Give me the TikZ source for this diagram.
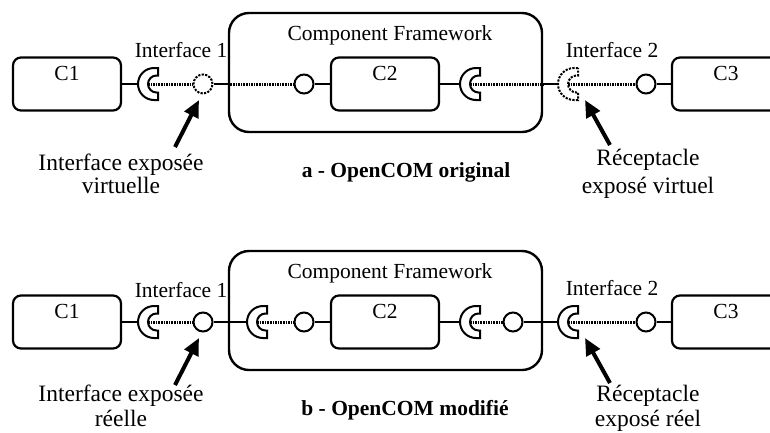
\documentclass[tikz,border=0pt]{standalone}
\usepackage{fontspec}
\setmainfont{Liberation Serif}
\usetikzlibrary{arrows.meta}
\tikzset{
  comp/.style={draw, line width=2.2pt, rounded corners=8pt, minimum width=108pt, minimum height=53pt, inner sep=0pt},
  cfbox/.style={draw, line width=2.4pt, rounded corners=20pt, minimum width=313pt, minimum height=119pt, inner sep=0pt},
  iface/.style={draw, circle, line width=2pt, minimum size=19pt, inner sep=0pt, fill=white},
  vface/.style={iface, line width=2pt, dash pattern=on 2.2pt off 1.3pt},
  vline/.style={line width=2pt, dash pattern=on 2.2pt off 1.3pt},
  wire/.style={line width=2.2pt},
  dots/.style={line width=3pt, dash pattern=on 1.5pt off 1.1pt},
  pointer/.style={line width=4pt, -{Triangle[length=17pt,width=15pt]}},
  lbl/.style={anchor=base, inner sep=0pt},
  big/.style={font=\fontsize{23.5}{28}\selectfont},
  recep/.pic={
    \draw[line width=2pt, fill=white, pic actions]
      (20,-16) -- (16,-16) arc[start angle=270, end angle=90, radius=16]
      -- (20,16) -- (20,8.5) -- (18.5,8.5) arc[start angle=90, end angle=270, radius=8.5]
      -- (20,-8.5) -- cycle;
    \coordinate (-L) at (0,0);
    \coordinate (-in) at (10,0);
  }
}
\begin{document}
\begin{tikzpicture}[x=1pt, y=-1pt, font=\fontsize{21.5}{26}\selectfont]
\useasboundingbox (0,0) rectangle (770,432);
\clip (0,0) rectangle (770,432);

% ---------- a - original ----------
\node[cfbox] (cfa) at (385.5,72.5) {};
\node[comp] (c1a) at (67,84) {};
\node[comp] (c2a) at (385,84) {};
\node[comp] (c3a) at (726,84) {};
\pic (r1a) at (138,84) {recep};
\node[vface] (i1a) at (203,84) {};
\node[iface] (i2a) at (304,84) {};
\pic (r2a) at (460,84) {recep};
\pic[vline] (r3a) at (558,84) {recep};
\node[iface] (i3a) at (646,84) {};

\draw[wire] (c1a.east) -- (r1a-L);
\draw[dots] (r1a-in) -- (i1a);
\draw[wire] (i1a) -- (i1a -| cfa.west);
\draw[dots] (i1a -| cfa.west) -- (i2a);
\draw[wire] (i2a) -- (c2a);
\draw[wire] (c2a) -- (r2a-L);
\draw[dots] (r2a-in) -- (r2a-in -| cfa.east);
\draw[wire] (r2a-in -| cfa.east) -- (r3a-L);
\draw[dots] (r3a-in) -- (i3a);
\draw[wire] (i3a) -- (c3a);

\node[lbl] (l1a) at (67,80) {C1};
\node[lbl] (l2a) at (385,80) {C2};
\node[lbl] (l3a) at (726,80) {C3};
\node[lbl] (cfla) at (390,40) {Component Framework};
\node[lbl] (if1a) at (181,57) {Interface 1};
\node[lbl] (if2a) at (612,57) {Interface 2};
\node[lbl, big] (ie1a) at (121,170) {Interface exposée};
\node[lbl, big] (ie2a) at (121,193) {virtuelle};
\node[lbl, big] (re1a) at (648,165) {Réceptacle};
\node[lbl, big] (re2a) at (648,193) {exposé virtuel};
\node[lbl] (tta) at (406,177) {\bfseries a - OpenCOM original};

\coordinate (t1a) at (175,147);
\coordinate (p1a) at (199,100);
\coordinate (t2a) at (610,145);
\coordinate (p2a) at (585,100);
\draw[pointer] (t1a) -- (p1a);
\draw[pointer] (t2a) -- (p2a);

% ---------- b - modifie ----------
\node[cfbox] (cfb) at (385.5,310.5) {};
\node[comp] (c1b) at (67,322) {};
\node[comp] (c2b) at (385,322) {};
\node[comp] (c3b) at (726,322) {};
\pic (r1b) at (138,322) {recep};
\node[iface] (i1b) at (203,322) {};
\pic (r4b) at (247,322) {recep};
\node[iface] (i2b) at (304,322) {};
\pic (r2b) at (460,322) {recep};
\node[iface] (i5b) at (513,322) {};
\pic (r3b) at (558,322) {recep};
\node[iface] (i3b) at (646,322) {};

\draw[wire] (c1b.east) -- (r1b-L);
\draw[dots] (r1b-in) -- (i1b);
\draw[wire] (i1b) -- (r4b-L);
\draw[dots] (r4b-in) -- (i2b);
\draw[wire] (i2b) -- (c2b);
\draw[wire] (c2b) -- (r2b-L);
\draw[dots] (r2b-in) -- (i5b);
\draw[wire] (i5b) -- (r3b-L);
\draw[dots] (r3b-in) -- (i3b);
\draw[wire] (i3b) -- (c3b);

\node[lbl] (l1b) at (67,318) {C1};
\node[lbl] (l2b) at (385,318) {C2};
\node[lbl] (l3b) at (726,318) {C3};
\node[lbl] (cflb) at (390,278) {Component Framework};
\node[lbl] (if1b) at (181,297) {Interface 1};
\node[lbl] (if2b) at (612,295) {Interface 2};
\node[lbl, big] (ie1b) at (121,401) {Interface exposée};
\node[lbl, big] (ie2b) at (121,426) {réelle};
\node[lbl, big] (re1b) at (648,401) {Réceptacle};
\node[lbl, big] (re2b) at (648,426) {exposé réel};
\node[lbl] (ttb) at (405,415) {\bfseries b - OpenCOM modifié};

\coordinate (t1b) at (175,385);
\coordinate (p1b) at (199,338);
\coordinate (t2b) at (610,383);
\coordinate (p2b) at (585,338);
\draw[pointer] (t1b) -- (p1b);
\draw[pointer] (t2b) -- (p2b);
\end{tikzpicture}
\end{document}
